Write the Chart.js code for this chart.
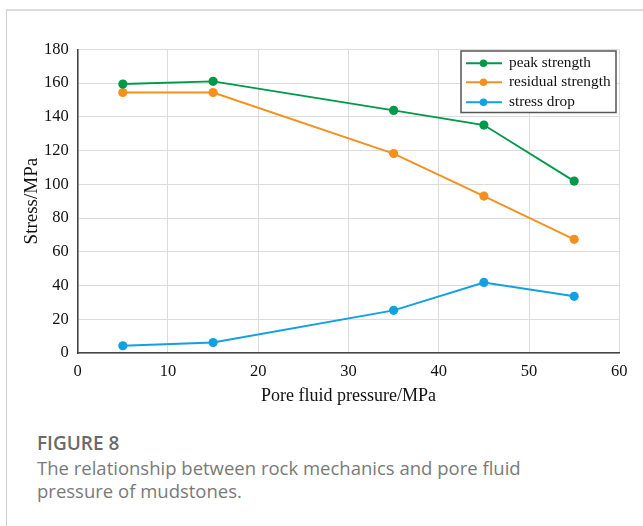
<!DOCTYPE html>
<html>
<head>
<meta charset="utf-8">
<script src="https://cdn.jsdelivr.net/npm/chart.js@4.4.1/dist/chart.umd.min.js"></script>
<style>
  html, body { margin: 0; padding: 0; background: #ffffff; width: 643px; height: 526px; overflow: hidden; }
  #card { position: absolute; left: 6px; top: 9px; width: 700px; height: 600px; border-top: 2px solid #dcdcdc; border-left: 1px solid #cfcfcf; }
  #wrap { position: absolute; left: 0; top: 0; width: 643px; height: 420px; }
  #fig { position: absolute; left: 37px; top: 430px; font-family: "Open Sans", sans-serif; font-weight: 600; font-size: 19px; color: #6a6a6a; }
  #cap { position: absolute; left: 37px; top: 456px; width: 600px; font-family: "Open Sans", sans-serif; font-size: 18.5px; line-height: 23px; color: #7a7a7a; }
</style>
</head>
<body>
<div id="card"></div>
<div id="wrap"><canvas id="c" width="643" height="420"></canvas></div>
<div id="fig">FIGURE 8</div>
<div id="cap">The relationship between rock mechanics and pore fluid<br>pressure of mudstones.</div>
<script>
const porePressure = [5, 15, 35, 45, 55];
const peakStrength = [159.4, 161.0, 143.8, 135.1, 101.9];
const residualStrength = [154.4, 154.4, 118.2, 93.0, 67.4];
const stressDrop = [4.3, 6.2, 25.3, 41.8, 33.6];
const seriesNames = ['peak strength', 'residual strength', 'stress drop'];
const xTicks = [0, 10, 20, 30, 40, 50, 60];
const yTicks = [0, 20, 40, 60, 80, 100, 120, 140, 160, 180];

const colors = ['#00994a', '#f5901e', '#12a0e2'];
const toPts = (ys) => porePressure.map((x, i) => ({ x: x, y: ys[i] }));
const serif = '"Liberation Serif", "Times New Roman", serif';

const legendPlugin = {
  id: 'boxLegend',
  afterDraw(chart) {
    const ctx = chart.ctx;
    const a = chart.chartArea;
    const right = a.right - 3.3, top = a.top + 1.7;
    const left = 461, bottom = top + 61.5;
    ctx.save();
    ctx.fillStyle = '#ffffff';
    ctx.fillRect(left, top, right - left, bottom - top);
    ctx.strokeStyle = '#555555';
    ctx.lineWidth = 1.5;
    ctx.strokeRect(left, top, right - left, bottom - top);
    const rows = [top + 12.3, top + 31.3, top + 51.3];
    chart.data.datasets.forEach((ds, i) => {
      const y = rows[i];
      ctx.strokeStyle = ds.borderColor;
      ctx.lineWidth = 2;
      ctx.beginPath(); ctx.moveTo(466, y); ctx.lineTo(502, y); ctx.stroke();
      ctx.fillStyle = ds.borderColor;
      ctx.beginPath(); ctx.arc(483.5, y, 3.8, 0, Math.PI * 2); ctx.fill();
      ctx.fillStyle = '#111111';
      ctx.font = '15.3px ' + serif;
      ctx.textBaseline = 'middle';
      ctx.textAlign = 'left';
      ctx.fillText(ds.label, 509, y);
    });
    ctx.restore();
  }
};

new Chart(document.getElementById('c'), {
  type: 'line',
  data: {
    datasets: [
      { label: seriesNames[0], data: toPts(peakStrength), borderColor: colors[0], backgroundColor: colors[0] },
      { label: seriesNames[1], data: toPts(residualStrength), borderColor: colors[1], backgroundColor: colors[1] },
      { label: seriesNames[2], data: toPts(stressDrop), borderColor: colors[2], backgroundColor: colors[2] }
    ]
  },
  options: {
    responsive: false,
    animation: false,
    devicePixelRatio: 1,
    layout: { padding: { left: 0, top: 49.3, right: 23.7, bottom: 0 } },
    elements: {
      line: { borderWidth: 1.9, tension: 0 },
      point: { radius: 4.6, hoverRadius: 4.6, borderWidth: 0 }
    },
    plugins: { legend: { display: false }, tooltip: { enabled: false } },
    scales: {
      x: {
        type: 'linear', min: 0, max: 60,
        afterBuildTicks: (s) => { s.ticks = xTicks.map(v => ({ value: v })); },
        afterFit: (s) => { s.height = 67; },
        grid: { color: '#dcdcdc', lineWidth: 1, drawTicks: false },
        border: { display: true, color: '#444444', width: 1.6 },
        ticks: { color: '#111111', font: { family: serif, size: 16.5 }, padding: 9, maxRotation: 0 },
        title: { display: true, text: 'Pore fluid pressure/MPa', color: '#111111', font: { family: serif, size: 18 }, padding: { top: 0, bottom: 12.5 } }
      },
      y: {
        type: 'linear', min: 0, max: 180,
        afterBuildTicks: (s) => { s.ticks = yTicks.map(v => ({ value: v })); },
        afterFit: (s) => { s.width = 77.7; },
        grid: { color: '#dcdcdc', lineWidth: 1, drawTicks: false },
        border: { display: true, color: '#444444', width: 1.6 },
        ticks: { color: '#111111', font: { family: serif, size: 16.5 }, padding: 9 },
        title: { display: true, text: 'Stress/MPa', color: '#111111', font: { family: serif, size: 19 }, padding: { top: 21, bottom: 0 } }
      }
    }
  },
  plugins: [legendPlugin]
});
</script>
</body>
</html>
